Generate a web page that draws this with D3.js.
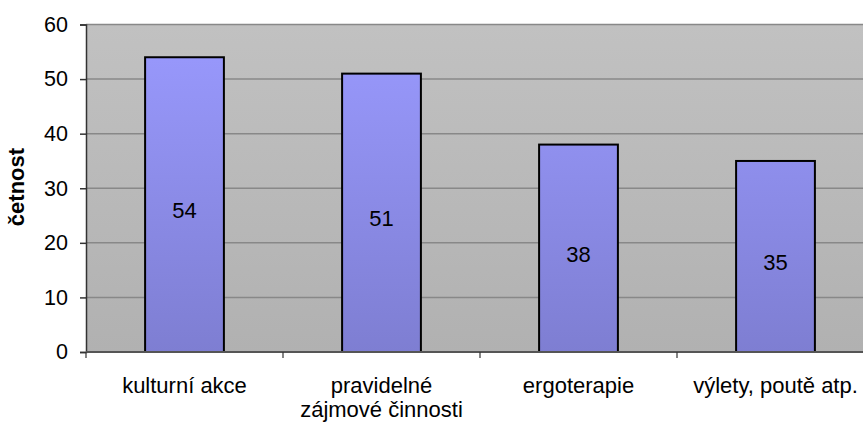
<!DOCTYPE html>
<html>
<head>
<meta charset="utf-8">
<script src="https://cdn.jsdelivr.net/npm/d3@7"></script>
<style>
  html, body { margin: 0; padding: 0; background: #fff; }
  svg { display: block; font-family: "Liberation Sans", Arial, sans-serif; }
</style>
</head>
<body>
<svg id="chart" width="863" height="425"></svg>
<script>
// Activity categories (second entry wraps onto two lines)
const categories = [
  ["kulturní akce"],
  ["pravidelné", "zájmové činnosti"],
  ["ergoterapie"],
  ["výlety, poutě atp."]
];
const values = [54, 51, 38, 35];
const yTicks = [0, 10, 20, 30, 40, 50, 60];
const yTitle = "četnost";

const svg = d3.select("#chart");
const plot = { left: 86, right: 874, top: 24.5, bottom: 352 };

const x = d3.scaleBand()
  .domain(d3.range(categories.length))
  .range([plot.left, plot.right])
  .paddingInner(0.6)
  .paddingOuter(0.3);

const y = d3.scaleLinear()
  .domain([0, 60])
  .range([plot.bottom, plot.top]);

const defs = svg.append("defs");
const bg = defs.append("linearGradient").attr("id", "bgGrad")
  .attr("x1", 0).attr("y1", 0).attr("x2", 0).attr("y2", 1);
bg.append("stop").attr("offset", "0%").attr("stop-color", "#c1c1c1");
bg.append("stop").attr("offset", "100%").attr("stop-color", "#b1b1b1");

const barGrad = defs.append("linearGradient").attr("id", "barGrad")
  .attr("gradientUnits", "userSpaceOnUse")
  .attr("x1", 0).attr("y1", plot.top).attr("x2", 0).attr("y2", plot.bottom);
barGrad.append("stop").attr("offset", "0%").attr("stop-color", "#9a9aff");
barGrad.append("stop").attr("offset", "100%").attr("stop-color", "#7e7ed2");

// plot background
svg.append("rect")
  .attr("x", plot.left).attr("y", plot.top)
  .attr("width", plot.right - plot.left).attr("height", plot.bottom - plot.top)
  .attr("fill", "url(#bgGrad)");

// horizontal gridlines
svg.append("g").selectAll("line")
  .data(yTicks.filter(d => d > 0))
  .join("line")
  .attr("x1", plot.left).attr("x2", plot.right)
  .attr("y1", d => y(d)).attr("y2", d => y(d))
  .attr("stroke", "#888").attr("stroke-width", 1.5);

// bars
svg.append("g").selectAll("rect")
  .data(values)
  .join("rect")
  .attr("x", (d, i) => x(i))
  .attr("y", d => y(d))
  .attr("width", x.bandwidth())
  .attr("height", d => y(0) - y(d))
  .attr("fill", "url(#barGrad)")
  .attr("stroke", "#000")
  .attr("stroke-width", 2);

// value labels, a little below the centre of each bar
svg.append("g").selectAll("text")
  .data(values)
  .join("text")
  .attr("x", (d, i) => x(i) + x.bandwidth() / 2)
  .attr("y", d => (y(d) + y(0)) / 2 + 6)
  .attr("text-anchor", "middle")
  .attr("dominant-baseline", "central")
  .attr("font-size", 22)
  .attr("fill", "#000")
  .text(d => d);

// y axis
const yAxis = d3.axisLeft(y).tickValues(yTicks).tickSize(6).tickPadding(12);
const gy = svg.append("g").attr("transform", `translate(${plot.left},0)`).call(yAxis);
gy.select(".domain").attr("stroke", "#333").attr("stroke-width", 1.5);
gy.selectAll(".tick line").attr("stroke", "#333").attr("stroke-width", 1.5);
gy.selectAll(".tick text").attr("font-size", 21.5).attr("fill", "#000")
  .attr("font-family", "Liberation Sans, Arial, sans-serif");

// x axis: ticks at category boundaries
const boundaries = d3.range(categories.length + 1).map(i => plot.left + i * x.step());
svg.append("line")
  .attr("x1", plot.left).attr("x2", plot.right)
  .attr("y1", y(0)).attr("y2", y(0))
  .attr("stroke", "#555").attr("stroke-width", 2);
svg.append("g").selectAll("line")
  .data(boundaries)
  .join("line")
  .attr("x1", d => d).attr("x2", d => d)
  .attr("y1", y(0)).attr("y2", y(0) + 6)
  .attr("stroke", "#333").attr("stroke-width", 1.2);

// category labels
const catText = svg.append("g").selectAll("text")
  .data(categories)
  .join("text")
  .attr("text-anchor", "middle")
  .attr("font-size", 22)
  .attr("fill", "#000");
catText.selectAll("tspan")
  .data((d, i) => d.map(line => ({ line, i })))
  .join("tspan")
  .attr("x", d => x(d.i) + x.bandwidth() / 2)
  .attr("y", (d, j) => 393 + j * 24)
  .text(d => d.line);

// y axis title
svg.append("text")
  .attr("transform", `translate(24,187) rotate(-90)`)
  .attr("text-anchor", "middle")
  .attr("font-size", 22)
  .attr("font-weight", "bold")
  .attr("fill", "#000")
  .text(yTitle);
</script>
</body>
</html>
